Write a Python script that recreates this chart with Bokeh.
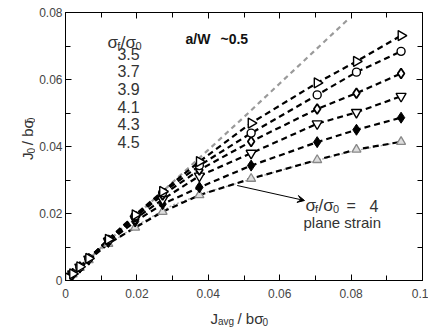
import numpy as np
from bokeh.plotting import figure
from bokeh.layouts import row, column
from bokeh.models import (LinearAxis, FixedTicker, Label, Arrow, VeeHead, Range1d)
from bokeh.core.properties import value
from bokeh.embed import file_html
from bokeh.resources import INLINE

# ---------------- data ----------------
x_vals = [0, 0.0008, 0.002, 0.004, 0.0065, 0.012, 0.0195, 0.0272, 0.0375, 0.052, 0.0705, 0.0815, 0.094]
y_35 = [0, 0.0008, 0.002, 0.0041, 0.0066, 0.0123, 0.0196, 0.0266, 0.0355, 0.0470, 0.0590, 0.0654, 0.0731]
y_37 = [0, 0.0008, 0.002, 0.0040, 0.0066, 0.0122, 0.0193, 0.0262, 0.0343, 0.0440, 0.0554, 0.0622, 0.0684]
y_39 = [0, 0.0008, 0.002, 0.0040, 0.0065, 0.0120, 0.0190, 0.0255, 0.0330, 0.0415, 0.0512, 0.0559, 0.0618]
y_41 = [0, 0.0008, 0.002, 0.0040, 0.0064, 0.0118, 0.0184, 0.0242, 0.0312, 0.0380, 0.0468, 0.0502, 0.0550]
y_43 = [0, 0.0008, 0.002, 0.0039, 0.0063, 0.0115, 0.0176, 0.0228, 0.0278, 0.0343, 0.0413, 0.0450, 0.0486]
y_45 = [0, 0.0008, 0.0019, 0.0038, 0.0061, 0.0110, 0.0158, 0.0205, 0.0255, 0.0304, 0.0360, 0.0391, 0.0414]

# grey dashed upper curve
upper_x = [0, 0.01, 0.02, 0.03, 0.04, 0.05, 0.06, 0.07, 0.079]
upper_y = [0, 0.0098, 0.0196, 0.0293, 0.0390, 0.0488, 0.0588, 0.0688, 0.0778]

# plane strain (sigma_f/sigma_0 = 4) dotted curve
ps_x = [0, 0.01, 0.02, 0.03, 0.04, 0.05, 0.06, 0.07, 0.08, 0.094]
ps_y = [0, 0.0093, 0.0165, 0.0225, 0.0265, 0.0296, 0.0328, 0.0357, 0.0385, 0.0414]

legend_vals = ["3.5", "3.7", "3.9", "4.1", "4.3", "4.5"]
x_ticks = [0, 0.02, 0.04, 0.06, 0.08, 0.1]
x_tick_labels = ["0", "0.02", "0.04", "0.06", "0.08", "0.1"]
y_ticks = [0, 0.02, 0.04, 0.06, 0.08]
y_tick_labels = ["0", "0.02", "0.04", "0.06", "0.08"]
minor = [0.01, 0.03, 0.05, 0.07, 0.09]

FONT = "Liberation Sans"
TC = "#333333"

# ---------------- layout sizes ----------------
W, H = 428, 327
YT_W = 35            # width of y-title strip
XT_H = 22            # height of x-title strip
MW, MH = W - YT_W, H - XT_H
L, R, T, B = 65 - YT_W, 6, 12, MH - 280

p = figure(width=MW, height=MH, output_backend="svg", toolbar_location=None,
           x_range=Range1d(0, 0.1), y_range=Range1d(0, 0.08),
           min_border_left=L, min_border_right=R, min_border_top=T, min_border_bottom=B,
           x_axis_type=None, y_axis_type=None)
p.grid.visible = False
p.outline_line_color = "black"
p.outline_line_width = 1

FW = MW - L - R
FH = MH - T - B
def sx(px):   # page px -> data x
    return (px - YT_W - L) / FW * 0.1
def sy(py):   # page px -> data y
    return (MH - B - py) / FH * 0.08

def make_axis(labels_on, ticks, labels, minor_ticks):
    ax = LinearAxis(ticker=FixedTicker(ticks=ticks, minor_ticks=minor_ticks))
    ax.major_tick_in = 6
    ax.major_tick_out = 0
    ax.minor_tick_in = 5
    ax.minor_tick_out = 0
    ax.axis_line_color = "black"
    ax.major_tick_line_color = "black"
    ax.minor_tick_line_color = "black"
    if labels_on:
        ax.major_label_overrides = {t: l for t, l in zip(ticks, labels)}
        ax.major_label_text_font = FONT
        ax.major_label_text_font_size = "12px"
        ax.major_label_text_color = "#444444"
    else:
        ax.major_label_text_color = None
        ax.major_label_text_font_size = "0px"
        ax.major_label_standoff = 0
    return ax

xb = make_axis(True, x_ticks, x_tick_labels, minor)
xb.major_label_standoff = 8
yl = make_axis(True, y_ticks, y_tick_labels, minor)
yl.major_label_standoff = 3
xt = make_axis(False, x_ticks, x_tick_labels, minor)
yr = make_axis(False, y_ticks, y_tick_labels, minor)
p.add_layout(xb, "below")
p.add_layout(yl, "left")
p.add_layout(xt, "above")
p.add_layout(yr, "right")

# ---------------- curves ----------------
p.line(upper_x, upper_y, line_color="#9a9a9a", line_width=2.2, line_dash="5 4")
p.line(ps_x, ps_y, line_color="#aaaaaa", line_width=1.3, line_dash="2 2")

series = [
    (y_35, dict(marker="triangle", angle=-np.pi / 2, size=10, fill_color="white", line_color="black", line_width=1.4)),
    (y_37, dict(marker="circle", size=8, fill_color="white", line_color="black", line_width=1.4)),
    (y_39, dict(marker="diamond", size=10, fill_color="white", line_color="black", line_width=1.8)),
    (y_41, dict(marker="inverted_triangle", size=10, fill_color="white", line_color="black", line_width=1.4)),
    (y_43, dict(marker="diamond", size=11, fill_color="black", line_color="black", line_width=1)),
    (y_45, dict(marker="triangle", size=9, fill_color="#dddddd", line_color="#888888", line_width=1.3)),
]
for ys, st in series:
    p.line(x_vals, ys, line_color="black", line_width=2.2, line_dash="6 4")
for ys, st in reversed(series):
    p.scatter(x_vals, ys, **st)

# ---------------- texts inside frame ----------------
def lab(px, py, text, size=15, angle=0, bold=False, align="left", baseline="alphabetic", color=TC):
    l = Label(x=sx(px), y=sy(py), text=text, text_font=FONT,
              text_font_size=f"{size}px", text_color=color, angle=angle,
              text_align=align, text_baseline=baseline,
              text_font_style="bold" if bold else "normal")
    p.add_layout(l)

# legend header  sigma_f / sigma_0
lab(107, 42, "σ", 17)
lab(116.8, 45, "f", 11)
lab(120.3, 42, "/σ", 17)
lab(135, 45, "0", 11)
legend_y = [53.3, 70.7, 88.3, 106, 123.3, 141.7]
for v, yy in zip(legend_vals, legend_y):
    lab(128, yy, v, 16, align="center", baseline="middle")

lab(185, 38, "a/W", 14, bold=True, baseline="middle", color="#111111")
lab(220, 38, "~0.5", 14, bold=True, baseline="middle", color="#111111")

# plane strain annotation
lab(305, 205, "σ", 17)
lab(314.5, 208.5, "f", 11)
lab(318, 205, "/σ", 17)
lab(332.5, 208.5, "0", 11)
lab(346, 205, "=", 16)
lab(369, 205, "4", 16)
lab(303, 222, "plane strain", 15, baseline="middle")

arrow = Arrow(x_start=sx(236.7), y_start=sy(185), x_end=sx(304), y_end=sy(200),
              line_color="black", line_width=1,
              end=VeeHead(size=7, line_color="black", line_width=1))
p.add_layout(arrow)

# ---------------- axis title strips ----------------
def strip(w, h):
    f = figure(width=w, height=h, output_backend="svg", toolbar_location=None,
               x_range=Range1d(0, w), y_range=Range1d(h, 0),
               min_border=0, x_axis_type=None, y_axis_type=None)
    f.grid.visible = False
    f.outline_line_color = None
    return f

def stext(f, x, y, t, size, angle=0):
    f.text(x=[x], y=[y], text=[t], text_font=value(FONT), text_font_size=value(f"{size}px"),
           text_color=TC, angle=angle, text_align="left", text_baseline="alphabetic")

# y title strip: page x 0..35, page y 0..305
yfig = strip(YT_W, MH)
a = np.pi / 2
stext(yfig, 27, 168, "J", 15, a)
stext(yfig, 30, 160.5, "0", 10, a)
stext(yfig, 27, 151, "/ bσ", 15, a)
stext(yfig, 30, 126, "0", 10, a)

# x title strip: page y 305..327
xfig = strip(W, XT_H)
oy = MH
stext(xfig, 210, 318 - oy, "J", 15)
stext(xfig, 217.5, 321 - oy, "avg", 10)
stext(xfig, 237, 318 - oy, "/ bσ", 15)
stext(xfig, 262, 321 - oy, "0", 10)

layout = column(row(yfig, p, spacing=0), xfig, spacing=0)
open("out.html", "w").write(file_html(layout, INLINE))
